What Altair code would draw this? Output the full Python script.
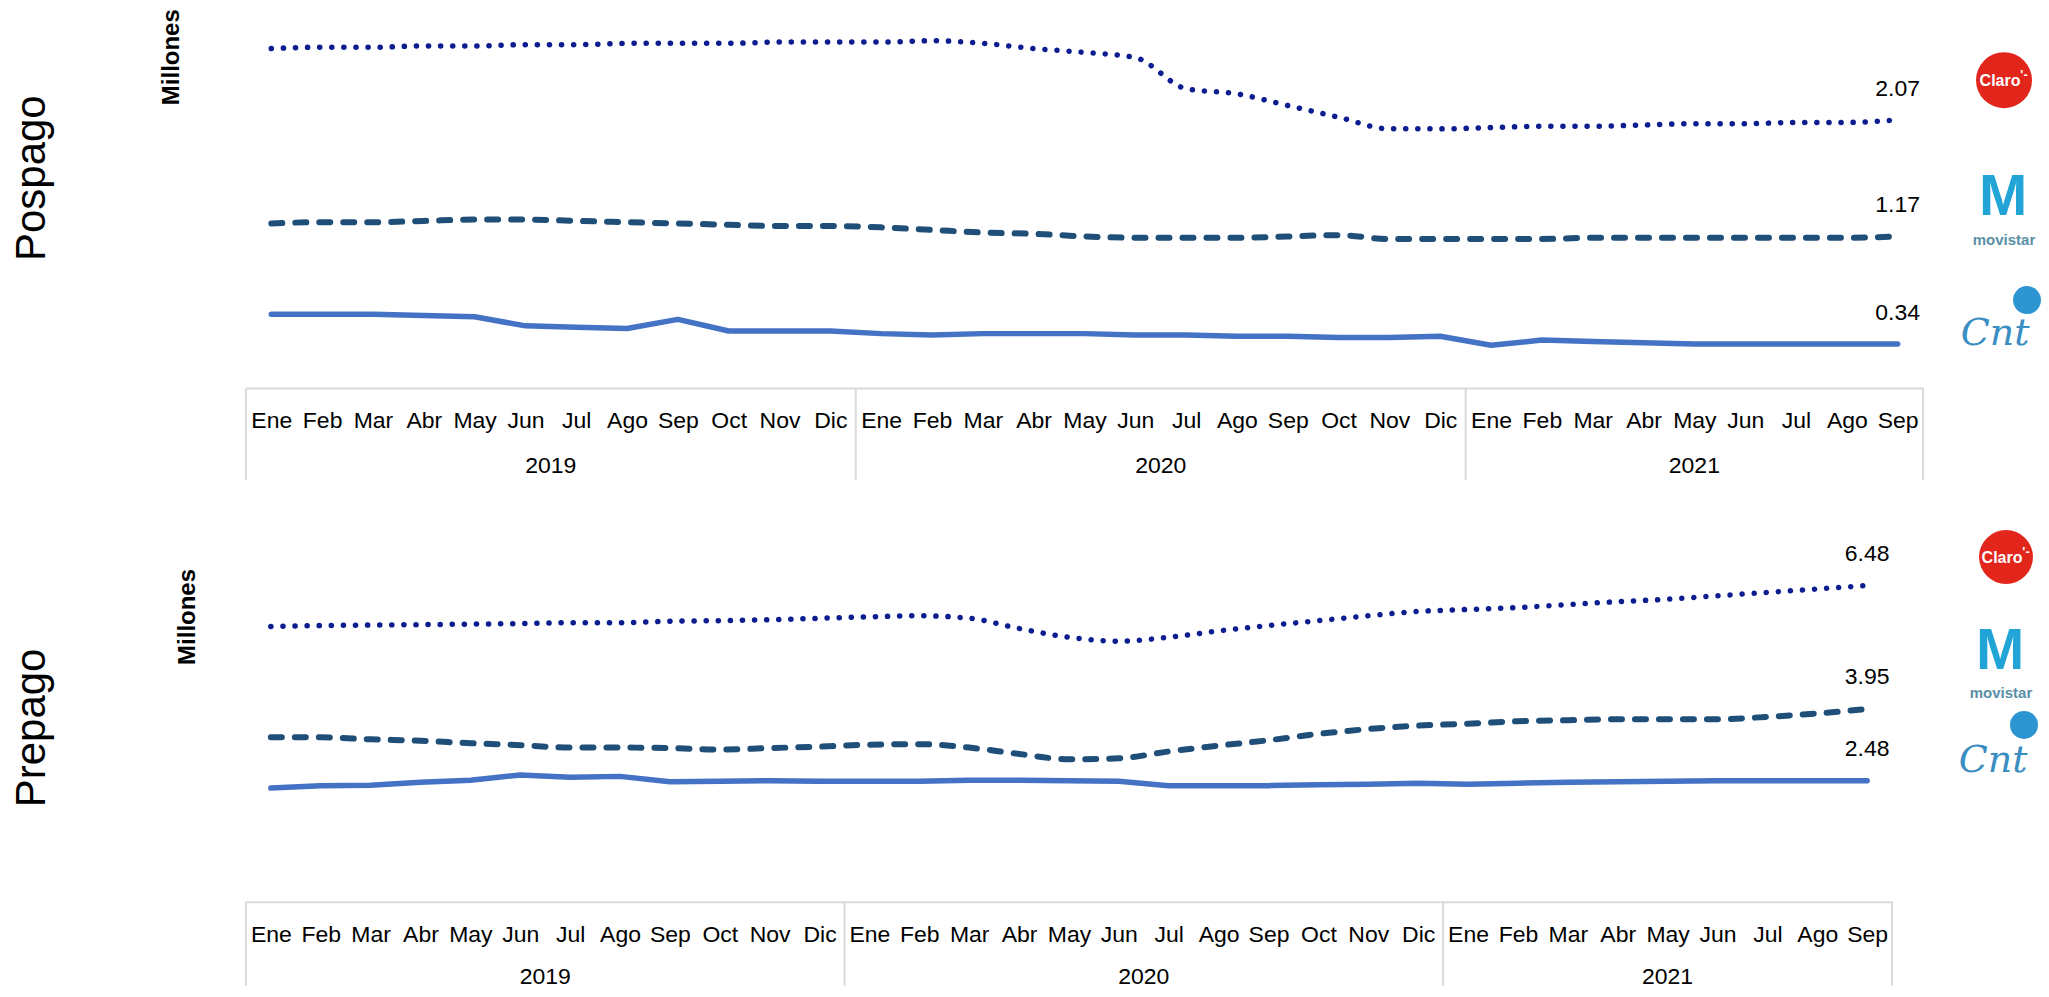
import altair as alt
import pandas as pd

# ---------------- data ----------------
months = ["Ene", "Feb", "Mar", "Abr", "May", "Jun", "Jul", "Ago", "Sep", "Oct", "Nov", "Dic"]
years = ["2019", "2020", "2021"]
months_per_year = [12, 12, 9]
operators = ["Claro", "Movistar", "CNT"]

# Pospago (millones)
pos_claro = [2.62, 2.63, 2.63, 2.64, 2.64, 2.65, 2.65, 2.66, 2.66, 2.66, 2.67, 2.67,
             2.67, 2.68, 2.66, 2.62, 2.59, 2.55, 2.31, 2.27, 2.18, 2.09, 2.00, 2.00,
             2.01, 2.02, 2.02, 2.03, 2.04, 2.04, 2.05, 2.05, 2.07]
pos_movistar = [1.27, 1.28, 1.28, 1.29, 1.30, 1.30, 1.29, 1.28, 1.27, 1.26, 1.25, 1.25,
                1.24, 1.22, 1.20, 1.19, 1.17, 1.16, 1.16, 1.16, 1.17, 1.18, 1.15, 1.15,
                1.15, 1.15, 1.16, 1.16, 1.16, 1.16, 1.16, 1.16, 1.17]
pos_cnt = [0.57, 0.57, 0.57, 0.56, 0.55, 0.48, 0.47, 0.46, 0.53, 0.44, 0.44, 0.44,
           0.42, 0.41, 0.42, 0.42, 0.42, 0.41, 0.41, 0.40, 0.40, 0.39, 0.39, 0.40,
           0.33, 0.37, 0.36, 0.35, 0.34, 0.34, 0.34, 0.34, 0.34]

# Prepago (millones)
pre_claro = [5.64, 5.66, 5.67, 5.68, 5.69, 5.70, 5.72, 5.72, 5.75, 5.76, 5.78, 5.81,
             5.84, 5.86, 5.81, 5.60, 5.42, 5.34, 5.42, 5.55, 5.66, 5.76, 5.86, 5.95,
             5.99, 6.03, 6.09, 6.15, 6.20, 6.27, 6.34, 6.41, 6.48]
pre_movistar = [3.37, 3.37, 3.33, 3.30, 3.25, 3.21, 3.16, 3.16, 3.15, 3.12, 3.15, 3.18,
                3.22, 3.23, 3.16, 3.03, 2.92, 2.94, 3.08, 3.20, 3.31, 3.44, 3.54, 3.61,
                3.65, 3.70, 3.72, 3.74, 3.74, 3.74, 3.79, 3.86, 3.95]
pre_cnt = [2.33, 2.38, 2.39, 2.45, 2.49, 2.60, 2.55, 2.57, 2.46, 2.47, 2.48, 2.47,
           2.47, 2.47, 2.49, 2.49, 2.48, 2.47, 2.38, 2.38, 2.38, 2.40, 2.41, 2.43,
           2.41, 2.43, 2.45, 2.46, 2.47, 2.48, 2.48, 2.48, 2.48]

# ---------------- derived tables ----------------
month_labels = [m for n in months_per_year for m in months[:n]]
N = len(month_labels)

starts = []
acc = 0
for n in months_per_year:
    starts.append(acc)
    acc += n
year_df = pd.DataFrame({"year": years,
                        "mid": [s + (n - 1) / 2 for s, n in zip(starts, months_per_year)]})
sep_df = pd.DataFrame({"pos": [s - 0.5 for s in starts] + [N - 0.5]})

FONT = "Liberation Sans"
STYLE = {
    "Claro": dict(color="#0b1d8f", strokeDash=[0.1, 12], strokeWidth=5.5, interpolate="monotone"),
    "Movistar": dict(color="#1f4e79", strokeDash=[11, 13], strokeWidth=6, interpolate="monotone"),
    "CNT": dict(color="#4472c4", strokeWidth=5.5, interpolate="linear"),
}

label_expr = "[" + ",".join("'%s'" % m for m in month_labels) + "][datum.value]"


def logo_layers(pos):
    """pos: dict of pixel positions for the logo decorations."""
    one = pd.DataFrame({"k": [0]})
    cx, cy, d = pos["claro"]
    mx, my = pos["m"]
    tx, ty = pos["movistar"]
    nx, ny = pos["cnt"]
    ox, oy, orad = pos["cnt_dot"]
    return [
        alt.Chart(one).mark_point(shape="circle", filled=True, opacity=1, color="#e2261c",
                                  size=d * d).encode(x=alt.value(cx), y=alt.value(cy)),
        alt.Chart(one).mark_text(text="Claro", color="white", fontSize=16, font=FONT,
                                 fontWeight="bold").encode(x=alt.value(cx - 4), y=alt.value(cy + 1)),
        alt.Chart(one).mark_text(text="'-", color="white", fontSize=13, font=FONT,
                                 fontWeight="bold").encode(x=alt.value(cx + 20), y=alt.value(cy - 5)),
        alt.Chart(one).mark_text(text="M", color="#22a5d6", fontSize=58, font=FONT,
                                 fontWeight="bold").encode(x=alt.value(mx), y=alt.value(my)),
        alt.Chart(one).mark_text(text="movistar", color="#5a90a6", fontSize=15, font=FONT,
                                 fontWeight="bold").encode(x=alt.value(tx), y=alt.value(ty)),
        alt.Chart(one).mark_text(text="Cnt", color="#3a8ec1", fontSize=38, font="DejaVu Serif",
                                 fontStyle="italic").encode(x=alt.value(nx), y=alt.value(ny)),
        alt.Chart(one).mark_point(shape="circle", filled=True, opacity=1, color="#2d95d2",
                                  size=4 * orad * orad).encode(x=alt.value(ox), y=alt.value(oy)),
    ]


def panel(name, series, W, H, ymax, lay):
    df = pd.DataFrame({
        "idx": list(range(N)) * len(operators),
        "value": sum(series, []),
        "op": [op for op in operators for _ in range(N)],
    })
    end_df = pd.DataFrame({"idx": [N - 1] * len(operators),
                           "value": [s[-1] for s in series],
                           "label": ["%.2f" % s[-1] for s in series]})

    axis = alt.Axis(values=list(range(N)), labelExpr=label_expr, labelFontSize=23, labelFont=FONT,
                    labelColor="black", labelPadding=lay["lab_pad"], labelBaseline="middle",
                    labelAngle=0, ticks=False, tickSize=0, grid=False, domainColor="#d9d9d9",
                    domainWidth=2, labelOverlap=False, labelFlush=False, title=None)
    X = alt.X("idx:Q", scale=alt.Scale(domain=[-0.5, N - 0.5], nice=False, zero=False), axis=axis)
    Y = alt.Y("value:Q", scale=alt.Scale(domain=[0, ymax], nice=False, zero=True), axis=None)

    layers = []
    for op in operators:
        layers.append(alt.Chart(df).transform_filter(alt.datum.op == op)
                      .mark_line(strokeCap="round", strokeJoin="round", **STYLE[op])
                      .encode(x=X, y=Y))
    layers.append(alt.Chart(end_df).mark_text(dy=lay["end_dy"], fontSize=23, font=FONT, color="black")
                  .encode(x=X, y=Y, text="label:N"))
    Xs = alt.X("pos:Q", scale=alt.Scale(domain=[-0.5, N - 0.5], nice=False, zero=False), axis=axis)
    layers.append(alt.Chart(sep_df).mark_rule(color="#d9d9d9", strokeWidth=2)
                  .encode(x=Xs, y=alt.value(H), y2=alt.value(H + lay["sep_len"])))
    Xm = alt.X("mid:Q", scale=alt.Scale(domain=[-0.5, N - 0.5], nice=False, zero=False), axis=axis)
    layers.append(alt.Chart(year_df).mark_text(fontSize=23, font=FONT, color="black", baseline="middle")
                  .encode(x=Xm, y=alt.value(H + lay["year_off"]), text="year:N"))
    one = pd.DataFrame({"k": [0]})
    layers.append(alt.Chart(one).mark_text(text=name, angle=270, fontSize=42, font=FONT, color="black",
                                           baseline="middle")
                  .encode(x=alt.value(lay["name_x"]), y=alt.value(lay["name_y"])))
    layers.append(alt.Chart(one).mark_text(text="Millones", angle=270, fontSize=24, font=FONT,
                                           fontWeight="bold", color="black", baseline="middle")
                  .encode(x=alt.value(lay["mill_x"]), y=alt.value(lay["mill_y"])))
    layers += logo_layers(lay["logos"])
    return alt.layer(*layers).properties(width=W, height=H)


top = panel("Pospago", [pos_claro, pos_movistar, pos_cnt], 1678, 376, 2.9,
            dict(lab_pad=32, end_dy=-31, sep_len=92, year_off=78,
                 name_x=-214, name_y=166, mill_x=-74, mill_y=45,
                 logos=dict(claro=(1759, 68, 56), m=(1758, 186), movistar=(1759, 228),
                            cnt=(1750, 322), cnt_dot=(1782, 288, 14))))
bottom = panel("Prepago", [pre_claro, pre_movistar, pre_cnt], 1647, 375, 7.68,
               dict(lab_pad=33, end_dy=-32, sep_len=84, year_off=75,
                    name_x=-214, name_y=201, mill_x=-58, mill_y=90,
                    logos=dict(claro=(1761, 30, 54), m=(1755, 125), movistar=(1756, 166),
                               cnt=(1748, 234), cnt_dot=(1779, 198, 14))))

chart = (alt.vconcat(top, bottom, spacing=46)
         .properties(padding={"left": 3, "top": 0, "right": 0, "bottom": 0})
         .configure_view(stroke=None))

chart.save("out.html", embed_options={"renderer": "svg", "actions": False})
